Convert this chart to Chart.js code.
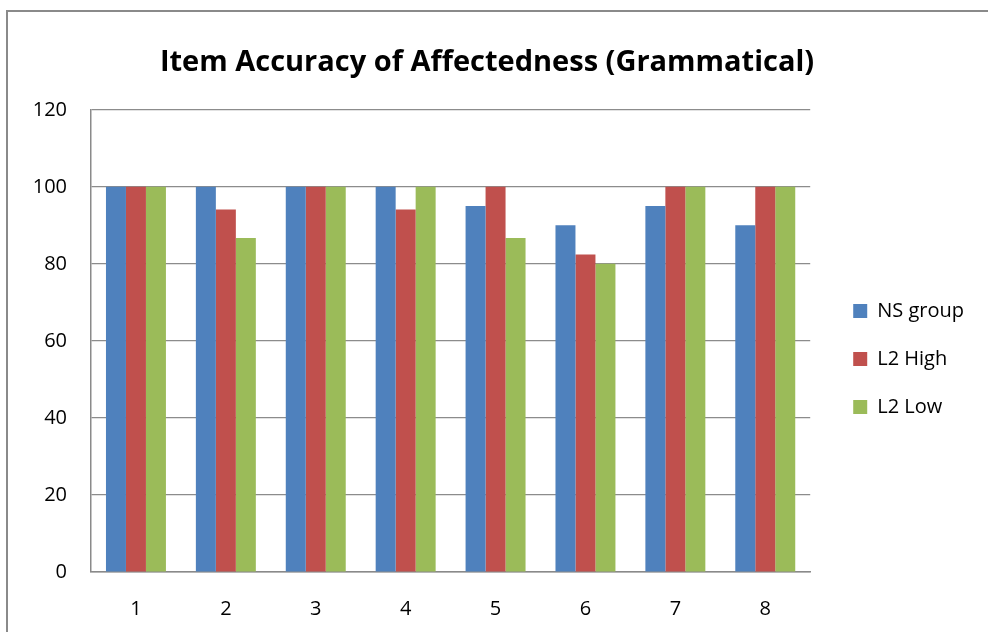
<!DOCTYPE html>
<html><head><meta charset="utf-8">
<script src="https://cdn.jsdelivr.net/npm/chart.js@4"></script>
<style>
html,body{margin:0;padding:0;background:#fff;overflow:hidden;}
#frame{position:absolute;left:6px;top:10px;width:1000px;height:640px;border:2px solid #8a8a8a;box-sizing:border-box;}
#wrap{position:absolute;left:0;top:0;width:988px;height:632px;}
</style></head><body>
<div id="frame"></div>
<div id="wrap"><canvas id="c" width="988" height="632"></canvas></div>
<script>
const categories = ['1','2','3','4','5','6','7','8'];
const nsGroup = [100,100,100,100,95,90,95,90];
const l2High  = [100,94.1,100,94.1,100,82.4,100,100];
const l2Low   = [100,86.7,100,100,86.7,80,100,100];
const yTicks  = [0,20,40,60,80,100,120];

const FONT = '"Open Sans", "Noto Sans", sans-serif';
new Chart(document.getElementById('c'), {
  type: 'bar',
  data: {
    labels: categories,
    datasets: [
      {label:'NS group', data: nsGroup, backgroundColor:'#4F81BD'},
      {label:'L2 High', data: l2High, backgroundColor:'#C0504D'},
      {label:'L2 Low', data: l2Low, backgroundColor:'#9BBB59'}
    ]
  },
  options: {
    responsive:false, animation:false,
    layout:{padding:{left:0, right:14, top:30, bottom:-14}},
    categoryPercentage: 0.667, barPercentage: 1.0,
    plugins:{
      title:{display:true, text:'Item Accuracy of Affectedness (Grammatical)', color:'#000',
        font:{family:FONT, size:29, weight:'bold'}, padding:{top:15, bottom:30}},
      legend:{position:'right', align:'center',
        title:{display:true, text:' ', font:{size:10}, padding:{top:0, bottom:30}},
        labels:{color:'#000', font:{family:FONT, size:20}, boxWidth:14, boxHeight:14, padding:28}},
      tooltip:{enabled:false}
    },
    scales:{
      x:{grid:{display:false, drawTicks:false}, border:{color:'#8a8a8a', width:1.5},
         ticks:{color:'#000', font:{family:FONT, size:20}, padding:25}},
      y:{min:0, max:120, afterBuildTicks:(s)=>{s.ticks = yTicks.map(v=>({value:v}));},
         grid:{color:'#8c8c8c', lineWidth:1.2, drawTicks:false}, border:{color:'#8a8a8a', width:1.5},
         ticks:{color:'#000', font:{family:FONT, size:20}, padding:24},
         afterFit:(s)=>{s.width = 91;}},
      gap:{type:'linear', position:'right', display:true,
         grid:{display:false, drawTicks:false}, border:{display:false}, ticks:{display:false},
         afterFit:(s)=>{s.width = 15;}}
    }
  }
});
</script></body></html>
